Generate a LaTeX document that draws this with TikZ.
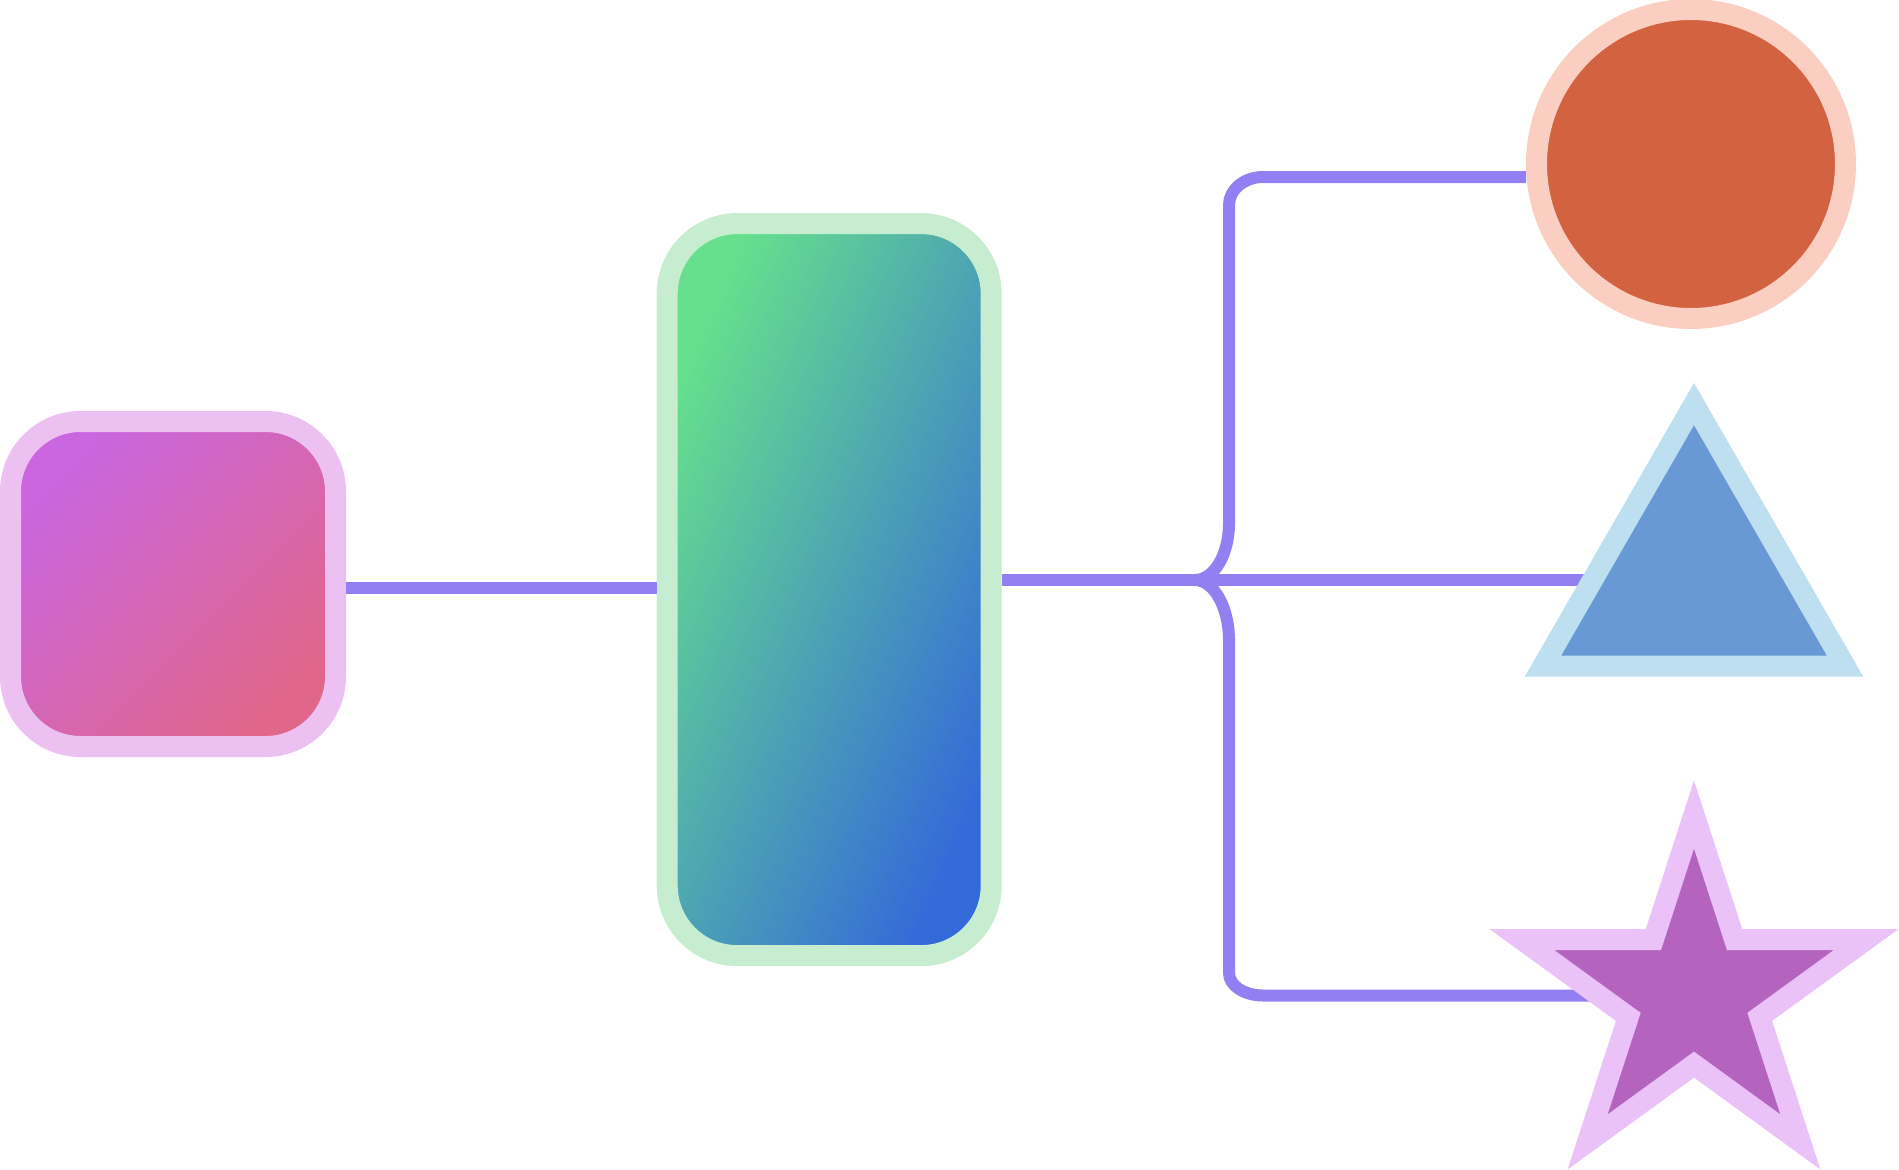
\documentclass[tikz,border=0pt]{standalone}
\usetikzlibrary{calc}
\definecolor{conncol}{HTML}{9280F2}
\definecolor{sqbord}{HTML}{ECC0F0}
\definecolor{sqA}{HTML}{C966E0}
\definecolor{sqB}{HTML}{E0668A}
\definecolor{tallbord}{HTML}{C7EDD0}
\definecolor{tallA}{HTML}{66E08C}
\definecolor{tallB}{HTML}{3469D9}
\definecolor{circbord}{HTML}{FACEC0}
\definecolor{circfill}{HTML}{D26240}
\definecolor{tribord}{HTML}{BDDFF0}
\definecolor{trifill}{HTML}{6899D5}
\definecolor{starbord}{HTML}{EAC2F8}
\definecolor{starfill}{HTML}{B464BE}
\begin{document}
\begin{tikzpicture}[x=1pt,y=-1pt,
  conn/.style={draw=conncol, line width=12pt},
  box/.style={rectangle, rounded corners=70pt, line width=21pt, inner sep=0pt},
  shapeline/.style={line width=21pt, line join=miter}]
\useasboundingbox (0,0) rectangle (1899,1170);
% nodes
\node[box, draw=sqbord, top color=sqA, bottom color=sqB, shading angle=45,
      minimum width=325pt, minimum height=325pt] (sq) at (173,584) {};
\node[box, draw=tallbord, top color=tallA, bottom color=tallB, shading angle=66.13,
      minimum width=324pt, minimum height=732pt] (tall) at (829.2,589.6) {};
\node[circle, draw=circbord, fill=circfill, line width=21pt, inner sep=0pt,
      minimum size=309pt] (circ) at (1691,164) {};
% helper coordinates
\coordinate (ya) at (0,588);
\coordinate (yb) at (0,580);
\coordinate (yt) at (0,177);
\coordinate (jn) at (1195,580);
\coordinate (tri) at (1694,580);
\coordinate (triL) at (1605,580);
\coordinate (star) at (1694,995.5);
\coordinate (starL) at (1615,995.5);
% connectors
\draw[conn] (sq.east |- ya) -- (tall.west |- ya);
\draw[conn] (tall.east |- yb) -- (triL);
\draw[conn] (jn) .. controls (1214,580) and (1229,554.5) .. (1229,523)
  -- (1229,205) .. controls (1229,189.6) and (1244.3,177) .. (1263,177)
  -- (circ.west |- yt);
\draw[conn] (jn) .. controls (1214,580) and (1229,608) .. (1229,640)
  -- (1229,973) .. controls (1229,985.6) and (1244.3,995.5) .. (1263,995.5)
  -- (starL);
% triangle
\draw[shapeline, draw=tribord, fill=trifill]
  ($(tri)+(0,-176)$) -- ($(tri)+(151,86)$) -- ($(tri)+(-151,86)$) -- cycle;
% star
\begin{scope}[shift={(star)}]
\draw[shapeline, draw=starbord, fill=starfill]
  (-90:181) -- (-54:69.1) -- (-18:181) -- (18:69.1) -- (54:181) --
  (90:69.1) -- (126:181) -- (162:69.1) -- (198:181) -- (234:69.1) -- cycle;
\end{scope}
\end{tikzpicture}
\end{document}
